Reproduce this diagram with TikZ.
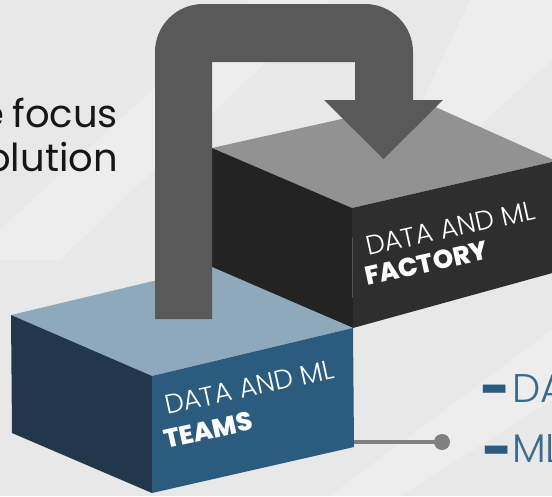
\documentclass[tikz,border=0pt]{standalone}
\usepackage{fontspec}
\setmainfont{Poppins}
\newfontfamily\poplight{Poppins Light}
\newfontfamily\popxbold{Poppins ExtraBold}
\definecolor{bg}{HTML}{E8E8E8}
\definecolor{arrowgray}{HTML}{595959}
\definecolor{factop}{HTML}{929292}
\definecolor{facleft}{HTML}{232323}
\definecolor{facfront}{HTML}{2E2E2E}
\definecolor{teamtop}{HTML}{8FA9BC}
\definecolor{teamleft}{HTML}{22374A}
\definecolor{teamfront}{HTML}{2B5C7E}
\definecolor{listblue}{HTML}{3A6A8E}
\definecolor{linkgray}{HTML}{808080}
\definecolor{textblack}{HTML}{161616}
\tikzset{
  bodytext/.style={font=\fontsize{38.5}{44}\selectfont, text=textblack, inner sep=0pt},
  boxlight/.style={font=\fontsize{27}{30}\poplight\selectfont, text=white, inner sep=0pt, rotate=12.5},
  boxbold/.style={font=\fontsize{26}{30}\popxbold\selectfont, text=white, inner sep=0pt, rotate=12.5},
  listtext/.style={font=\fontsize{40}{44}\poplight\selectfont, text=listblue, inner sep=0pt},
  listdash/.style={font=\fontsize{50}{54}\popxbold\selectfont, text=teamfront, inner sep=0pt},
  streak/.style={fill=white, opacity=0.25},
}
\begin{document}
\begin{tikzpicture}[x=1pt,y=-1pt]
\useasboundingbox (0,0) rectangle (552,496);
\clip (0,0) rectangle (552,496);
\fill[bg] (0,0) rectangle (552,496);
% soft light streaks
\fill[streak] (250,0) -- (330,0) -- (60,260) -- (0,260) -- (0,230) -- cycle;
\fill[streak] (470,0) -- (552,0) -- (552,60) -- (430,170) -- (390,170) -- cycle;
\fill[streak] (552,330) -- (552,400) -- (400,496) -- (330,496) -- cycle;
% left text
\node[bodytext, anchor=base east] (t1) at (118,127) {e\hspace{-2pt} focus};
\node[bodytext, anchor=base east] (t2) at (118,171) {olution};
% factory box
\fill[factop] (212,148) -- (422,101) -- (556,161) -- (352,208) -- cycle;
\fill[facleft] (212,148) -- (352,208) -- (353,328) -- (212,268) -- cycle;
\fill[facfront] (352,208) -- (556,161) -- (556,272) -- (353,328) -- cycle;
% teams box
\fill[teamtop] (11,315) -- (212,267) -- (353,328) -- (152,376) -- cycle;
\fill[teamleft] (11,315) -- (152,376) -- (152,493) -- (12,433) -- cycle;
\fill[teamfront] (152,376) -- (353,328) -- (354,447) -- (152,493) -- cycle;
% loop arrow
\fill[arrowgray] (155,319) -- (155,52) arc[start angle=180, end angle=270, radius=48]
  -- (365,4) arc[start angle=270, end angle=360, radius=48]
  -- (413,100) -- (443,100) -- (383.5,159) -- (324,100) -- (355,100)
  -- (355,62) -- (212,62) -- (212,319) -- cycle;
% box labels
\node[boxlight, anchor=base west] (f1) at (368,256) {DATA AND ML};
\node[boxbold, anchor=base west] (f2) at (367,286) {FACTORY};
\node[boxlight, anchor=base west] (m1) at (167,415) {DATA AND ML};
\node[boxbold, anchor=base west] (m2) at (166,449) {TEAMS};
% connector
\coordinate (tedge) at (354,442);
\node[circle, fill=linkgray, minimum size=16pt, inner sep=0pt] (dot) at (442,442) {};
\draw[linkgray, line width=4pt] (tedge) -- (dot.center);
% list
\node[listdash, anchor=base west] (d1) at (481,406) {-};
\node[listtext, anchor=base west] (l1) at (512,402) {DA};
\node[listdash, anchor=base west] (d2) at (483,467) {-};
\node[listtext, anchor=base west] (l2) at (512,462) {ML};
\end{tikzpicture}
\end{document}
